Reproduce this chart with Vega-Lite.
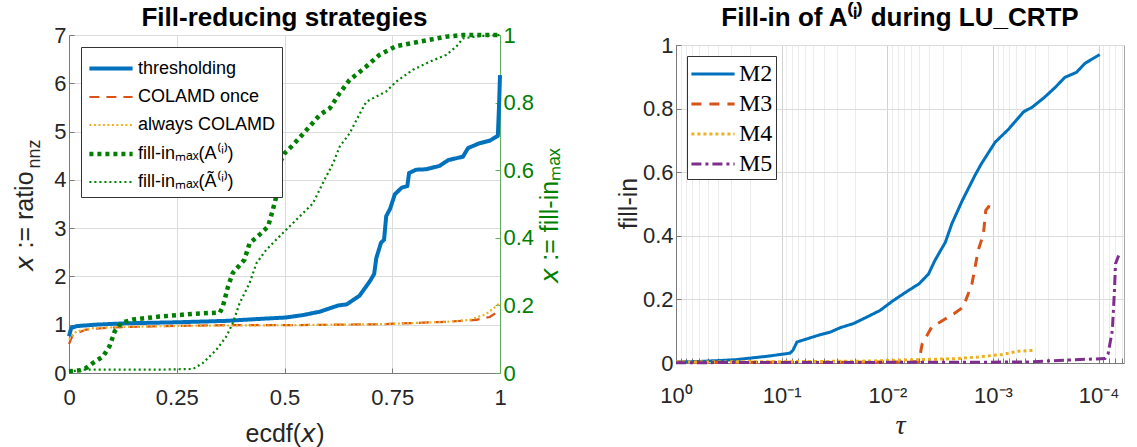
{
  "$schema": "https://vega.github.io/schema/vega-lite/v6.json",
  "background": "white",
  "padding": {"left": 11, "top": 4, "right": 5, "bottom": 5},
  "spacing": 176,
  "bounds": "flush",
  "center": true,
  "config": {
    "font": "Liberation Sans",
    "view": {"stroke": "#a6a6a6", "strokeWidth": 1},
    "axis": {
      "labelFont": "Liberation Sans", "labelFontSize": 22, "labelColor": "#262626",
      "titleFont": "Liberation Sans", "titleFontSize": 25, "titleFontWeight": "normal", "titleColor": "#262626",
      "gridColor": "#dcdcdc", "gridWidth": 1, "domainColor": "#7a7a7a", "tickColor": "#7a7a7a",
      "tickSize": -5, "labelPadding": 8, "labelFlush": false, "labelOverlap": false
    },
    "legend": {
      "labelFont": "Liberation Sans", "labelFontSize": 18, "labelColor": "#000000",
      "strokeColor": "#333333", "fillColor": "#ffffff", "padding": 6,
      "symbolType": "M-1.6,0H1.6", "symbolSize": 729, "symbolOffset": 8, "labelOffset": 11,
      "rowPadding": 4, "orient": "top-left", "offset": 12, "labelLimit": 400
    },
    "title": {"font": "Liberation Sans", "fontSize": 26, "fontWeight": "bold", "color": "#000000", "anchor": "middle", "baseline": "alphabetic", "frame": "group"},
    "line": {"strokeCap": "butt", "strokeJoin": "round"}
  },
  "datasets": {
    "ratio": [
      {"s": "thresholding", "e": 0, "r": 0.76}, {"s": "thresholding", "e": 0.005, "r": 0.93}, {"s": "thresholding", "e": 0.017, "r": 0.97},
      {"s": "thresholding", "e": 0.06, "r": 1.0}, {"s": "thresholding", "e": 0.133, "r": 1.03}, {"s": "thresholding", "e": 0.249, "r": 1.05},
      {"s": "thresholding", "e": 0.365, "r": 1.08}, {"s": "thresholding", "e": 0.442, "r": 1.12}, {"s": "thresholding", "e": 0.504, "r": 1.15},
      {"s": "thresholding", "e": 0.543, "r": 1.2}, {"s": "thresholding", "e": 0.582, "r": 1.27}, {"s": "thresholding", "e": 0.625, "r": 1.4},
      {"s": "thresholding", "e": 0.644, "r": 1.42}, {"s": "thresholding", "e": 0.674, "r": 1.6}, {"s": "thresholding", "e": 0.698, "r": 1.9},
      {"s": "thresholding", "e": 0.708, "r": 2.05}, {"s": "thresholding", "e": 0.713, "r": 2.38}, {"s": "thresholding", "e": 0.724, "r": 2.7},
      {"s": "thresholding", "e": 0.731, "r": 2.76}, {"s": "thresholding", "e": 0.736, "r": 3.25}, {"s": "thresholding", "e": 0.745, "r": 3.4},
      {"s": "thresholding", "e": 0.756, "r": 3.7}, {"s": "thresholding", "e": 0.772, "r": 3.84}, {"s": "thresholding", "e": 0.785, "r": 3.87},
      {"s": "thresholding", "e": 0.789, "r": 4.14}, {"s": "thresholding", "e": 0.805, "r": 4.21}, {"s": "thresholding", "e": 0.829, "r": 4.22},
      {"s": "thresholding", "e": 0.86, "r": 4.29}, {"s": "thresholding", "e": 0.88, "r": 4.41}, {"s": "thresholding", "e": 0.914, "r": 4.48},
      {"s": "thresholding", "e": 0.926, "r": 4.66}, {"s": "thresholding", "e": 0.953, "r": 4.76}, {"s": "thresholding", "e": 0.976, "r": 4.81},
      {"s": "thresholding", "e": 0.995, "r": 4.91}, {"s": "thresholding", "e": 0.998, "r": 5.59}, {"s": "thresholding", "e": 1.0, "r": 6.17},
      {"s": "COLAMD once", "e": 0, "r": 0.6}, {"s": "COLAMD once", "e": 0.009, "r": 0.79}, {"s": "COLAMD once", "e": 0.04, "r": 0.9},
      {"s": "COLAMD once", "e": 0.094, "r": 0.94}, {"s": "COLAMD once", "e": 0.21, "r": 0.97}, {"s": "COLAMD once", "e": 0.365, "r": 0.99},
      {"s": "COLAMD once", "e": 0.5, "r": 0.99}, {"s": "COLAMD once", "e": 0.72, "r": 1.01}, {"s": "COLAMD once", "e": 0.876, "r": 1.06},
      {"s": "COLAMD once", "e": 0.945, "r": 1.1}, {"s": "COLAMD once", "e": 0.976, "r": 1.16}, {"s": "COLAMD once", "e": 0.995, "r": 1.27},
      {"s": "COLAMD once", "e": 1.0, "r": 1.3},
      {"s": "always COLAMD", "e": 0, "r": 0.69}, {"s": "always COLAMD", "e": 0.017, "r": 0.86}, {"s": "always COLAMD", "e": 0.056, "r": 0.93},
      {"s": "always COLAMD", "e": 0.15, "r": 0.96}, {"s": "always COLAMD", "e": 0.3, "r": 0.98}, {"s": "always COLAMD", "e": 0.5, "r": 0.99},
      {"s": "always COLAMD", "e": 0.72, "r": 1.01}, {"s": "always COLAMD", "e": 0.876, "r": 1.06}, {"s": "always COLAMD", "e": 0.93, "r": 1.1},
      {"s": "always COLAMD", "e": 0.968, "r": 1.22}, {"s": "always COLAMD", "e": 1.0, "r": 1.45}
    ],
    "fill": [
      {"s": "fill-inₘₐₓ(A⁽ⁱ⁾)", "e": 0, "f": 0.005}, {"s": "fill-inₘₐₓ(A⁽ⁱ⁾)", "e": 0.025, "f": 0.008}, {"s": "fill-inₘₐₓ(A⁽ⁱ⁾)", "e": 0.04, "f": 0.015},
      {"s": "fill-inₘₐₓ(A⁽ⁱ⁾)", "e": 0.056, "f": 0.03}, {"s": "fill-inₘₐₓ(A⁽ⁱ⁾)", "e": 0.079, "f": 0.049}, {"s": "fill-inₘₐₓ(A⁽ⁱ⁾)", "e": 0.094, "f": 0.079},
      {"s": "fill-inₘₐₓ(A⁽ⁱ⁾)", "e": 0.106, "f": 0.123}, {"s": "fill-inₘₐₓ(A⁽ⁱ⁾)", "e": 0.121, "f": 0.148}, {"s": "fill-inₘₐₓ(A⁽ⁱ⁾)", "e": 0.148, "f": 0.158},
      {"s": "fill-inₘₐₓ(A⁽ⁱ⁾)", "e": 0.21, "f": 0.167}, {"s": "fill-inₘₐₓ(A⁽ⁱ⁾)", "e": 0.288, "f": 0.175}, {"s": "fill-inₘₐₓ(A⁽ⁱ⁾)", "e": 0.35, "f": 0.179},
      {"s": "fill-inₘₐₓ(A⁽ⁱ⁾)", "e": 0.357, "f": 0.197}, {"s": "fill-inₘₐₓ(A⁽ⁱ⁾)", "e": 0.369, "f": 0.256}, {"s": "fill-inₘₐₓ(A⁽ⁱ⁾)", "e": 0.38, "f": 0.296},
      {"s": "fill-inₘₐₓ(A⁽ⁱ⁾)", "e": 0.407, "f": 0.335}, {"s": "fill-inₘₐₓ(A⁽ⁱ⁾)", "e": 0.419, "f": 0.384}, {"s": "fill-inₘₐₓ(A⁽ⁱ⁾)", "e": 0.442, "f": 0.409},
      {"s": "fill-inₘₐₓ(A⁽ⁱ⁾)", "e": 0.462, "f": 0.434}, {"s": "fill-inₘₐₓ(A⁽ⁱ⁾)", "e": 0.473, "f": 0.483}, {"s": "fill-inₘₐₓ(A⁽ⁱ⁾)", "e": 0.485, "f": 0.542},
      {"s": "fill-inₘₐₓ(A⁽ⁱ⁾)", "e": 0.489, "f": 0.621}, {"s": "fill-inₘₐₓ(A⁽ⁱ⁾)", "e": 0.5, "f": 0.65}, {"s": "fill-inₘₐₓ(A⁽ⁱ⁾)", "e": 0.52, "f": 0.675},
      {"s": "fill-inₘₐₓ(A⁽ⁱ⁾)", "e": 0.551, "f": 0.719}, {"s": "fill-inₘₐₓ(A⁽ⁱ⁾)", "e": 0.582, "f": 0.764}, {"s": "fill-inₘₐₓ(A⁽ⁱ⁾)", "e": 0.605, "f": 0.783},
      {"s": "fill-inₘₐₓ(A⁽ⁱ⁾)", "e": 0.628, "f": 0.828}, {"s": "fill-inₘₐₓ(A⁽ⁱ⁾)", "e": 0.651, "f": 0.867}, {"s": "fill-inₘₐₓ(A⁽ⁱ⁾)", "e": 0.689, "f": 0.906},
      {"s": "fill-inₘₐₓ(A⁽ⁱ⁾)", "e": 0.72, "f": 0.941}, {"s": "fill-inₘₐₓ(A⁽ⁱ⁾)", "e": 0.759, "f": 0.967}, {"s": "fill-inₘₐₓ(A⁽ⁱ⁾)", "e": 0.813, "f": 0.98},
      {"s": "fill-inₘₐₓ(A⁽ⁱ⁾)", "e": 0.875, "f": 0.995}, {"s": "fill-inₘₐₓ(A⁽ⁱ⁾)", "e": 0.914, "f": 1.0}, {"s": "fill-inₘₐₓ(A⁽ⁱ⁾)", "e": 1.0, "f": 1.0},
      {"s": "fill-inₘₐₓ(Ã⁽ⁱ⁾)", "e": 0, "f": 0.002}, {"s": "fill-inₘₐₓ(Ã⁽ⁱ⁾)", "e": 0.025, "f": 0.01}, {"s": "fill-inₘₐₓ(Ã⁽ⁱ⁾)", "e": 0.21, "f": 0.01},
      {"s": "fill-inₘₐₓ(Ã⁽ⁱ⁾)", "e": 0.288, "f": 0.012}, {"s": "fill-inₘₐₓ(Ã⁽ⁱ⁾)", "e": 0.311, "f": 0.03}, {"s": "fill-inₘₐₓ(Ã⁽ⁱ⁾)", "e": 0.342, "f": 0.069},
      {"s": "fill-inₘₐₓ(Ã⁽ⁱ⁾)", "e": 0.365, "f": 0.108}, {"s": "fill-inₘₐₓ(Ã⁽ⁱ⁾)", "e": 0.38, "f": 0.148}, {"s": "fill-inₘₐₓ(Ã⁽ⁱ⁾)", "e": 0.396, "f": 0.207},
      {"s": "fill-inₘₐₓ(Ã⁽ⁱ⁾)", "e": 0.419, "f": 0.266}, {"s": "fill-inₘₐₓ(Ã⁽ⁱ⁾)", "e": 0.435, "f": 0.325}, {"s": "fill-inₘₐₓ(Ã⁽ⁱ⁾)", "e": 0.458, "f": 0.365},
      {"s": "fill-inₘₐₓ(Ã⁽ⁱ⁾)", "e": 0.489, "f": 0.405}, {"s": "fill-inₘₐₓ(Ã⁽ⁱ⁾)", "e": 0.504, "f": 0.424}, {"s": "fill-inₘₐₓ(Ã⁽ⁱ⁾)", "e": 0.535, "f": 0.463},
      {"s": "fill-inₘₐₓ(Ã⁽ⁱ⁾)", "e": 0.566, "f": 0.502}, {"s": "fill-inₘₐₓ(Ã⁽ⁱ⁾)", "e": 0.589, "f": 0.562}, {"s": "fill-inₘₐₓ(Ã⁽ⁱ⁾)", "e": 0.613, "f": 0.621},
      {"s": "fill-inₘₐₓ(Ã⁽ⁱ⁾)", "e": 0.628, "f": 0.67}, {"s": "fill-inₘₐₓ(Ã⁽ⁱ⁾)", "e": 0.651, "f": 0.709}, {"s": "fill-inₘₐₓ(Ã⁽ⁱ⁾)", "e": 0.675, "f": 0.768},
      {"s": "fill-inₘₐₓ(Ã⁽ⁱ⁾)", "e": 0.69, "f": 0.803}, {"s": "fill-inₘₐₓ(Ã⁽ⁱ⁾)", "e": 0.713, "f": 0.818}, {"s": "fill-inₘₐₓ(Ã⁽ⁱ⁾)", "e": 0.736, "f": 0.833},
      {"s": "fill-inₘₐₓ(Ã⁽ⁱ⁾)", "e": 0.759, "f": 0.862}, {"s": "fill-inₘₐₓ(Ã⁽ⁱ⁾)", "e": 0.798, "f": 0.897}, {"s": "fill-inₘₐₓ(Ã⁽ⁱ⁾)", "e": 0.837, "f": 0.921},
      {"s": "fill-inₘₐₓ(Ã⁽ⁱ⁾)", "e": 0.875, "f": 0.941}, {"s": "fill-inₘₐₓ(Ã⁽ⁱ⁾)", "e": 0.899, "f": 0.966}, {"s": "fill-inₘₐₓ(Ã⁽ⁱ⁾)", "e": 0.914, "f": 0.99},
      {"s": "fill-inₘₐₓ(Ã⁽ⁱ⁾)", "e": 0.953, "f": 0.997}, {"s": "fill-inₘₐₓ(Ã⁽ⁱ⁾)", "e": 1.0, "f": 1.0}
    ],
    "tau": [
      {"s": "M2", "t": 1, "f": 0.003}, {"s": "M2", "t": 0.589, "f": 0.005}, {"s": "M2", "t": 0.282, "f": 0.01}, {"s": "M2", "t": 0.138, "f": 0.021},
      {"s": "M2", "t": 0.0832, "f": 0.031}, {"s": "M2", "t": 0.0782, "f": 0.04}, {"s": "M2", "t": 0.0716, "f": 0.066}, {"s": "M2", "t": 0.0575, "f": 0.076},
      {"s": "M2", "t": 0.0432, "f": 0.089}, {"s": "M2", "t": 0.0347, "f": 0.097}, {"s": "M2", "t": 0.0279, "f": 0.111}, {"s": "M2", "t": 0.0209, "f": 0.124},
      {"s": "M2", "t": 0.0155, "f": 0.145}, {"s": "M2", "t": 0.01175, "f": 0.165}, {"s": "M2", "t": 0.00891, "f": 0.195}, {"s": "M2", "t": 0.00631, "f": 0.228},
      {"s": "M2", "t": 0.00501, "f": 0.249}, {"s": "M2", "t": 0.00407, "f": 0.28}, {"s": "M2", "t": 0.00355, "f": 0.322}, {"s": "M2", "t": 0.00282, "f": 0.38},
      {"s": "M2", "t": 0.00245, "f": 0.438}, {"s": "M2", "t": 0.00195, "f": 0.511}, {"s": "M2", "t": 0.00148, "f": 0.59}, {"s": "M2", "t": 0.00129, "f": 0.626},
      {"s": "M2", "t": 0.000955, "f": 0.694}, {"s": "M2", "t": 0.000708, "f": 0.736}, {"s": "M2", "t": 0.000513, "f": 0.79}, {"s": "M2", "t": 0.000427, "f": 0.804},
      {"s": "M2", "t": 0.000324, "f": 0.836}, {"s": "M2", "t": 0.000257, "f": 0.867}, {"s": "M2", "t": 0.000209, "f": 0.898}, {"s": "M2", "t": 0.000162, "f": 0.914},
      {"s": "M2", "t": 0.000135, "f": 0.942}, {"s": "M2", "t": 0.0000977, "f": 0.97},
      {"s": "M3", "t": 1, "f": 0.002}, {"s": "M3", "t": 0.1, "f": 0.002}, {"s": "M3", "t": 0.01, "f": 0.003}, {"s": "M3", "t": 0.00501, "f": 0.004},
      {"s": "M3", "t": 0.00468, "f": 0.06}, {"s": "M3", "t": 0.0038, "f": 0.113}, {"s": "M3", "t": 0.00234, "f": 0.155}, {"s": "M3", "t": 0.00191, "f": 0.176},
      {"s": "M3", "t": 0.00158, "f": 0.249}, {"s": "M3", "t": 0.00138, "f": 0.354}, {"s": "M3", "t": 0.00123, "f": 0.406}, {"s": "M3", "t": 0.00117, "f": 0.48},
      {"s": "M3", "t": 0.0011, "f": 0.492}, {"s": "M3", "t": 0.00102, "f": 0.488},
      {"s": "M4", "t": 1, "f": 0.003}, {"s": "M4", "t": 0.1, "f": 0.004}, {"s": "M4", "t": 0.0155, "f": 0.006}, {"s": "M4", "t": 0.0091, "f": 0.008},
      {"s": "M4", "t": 0.00214, "f": 0.014}, {"s": "M4", "t": 0.00138, "f": 0.019}, {"s": "M4", "t": 0.000813, "f": 0.027}, {"s": "M4", "t": 0.000575, "f": 0.037},
      {"s": "M4", "t": 0.000398, "f": 0.04},
      {"s": "M5", "t": 1, "f": 0.001}, {"s": "M5", "t": 0.01, "f": 0.002}, {"s": "M5", "t": 0.00049, "f": 0.003}, {"s": "M5", "t": 0.00024, "f": 0.008},
      {"s": "M5", "t": 0.0000871, "f": 0.014}, {"s": "M5", "t": 0.0000813, "f": 0.029}, {"s": "M5", "t": 0.0000741, "f": 0.103}, {"s": "M5", "t": 0.0000708, "f": 0.228},
      {"s": "M5", "t": 0.0000692, "f": 0.312}, {"s": "M5", "t": 0.0000646, "f": 0.338}
    ]
  },
  "hconcat": [
    {
      "width": 431, "height": 338,
      "title": {"text": "Fill-reducing strategies", "offset": -7},
      "layer": [
        {
          "data": {"name": "ratio"},
          "mark": {"type": "line"},
          "encoding": {
            "x": {"field": "e", "type": "quantitative", "scale": {"domain": [0, 1], "nice": false, "zero": false},
                  "axis": {"title": "ecdf(𝘹)", "values": [0, 0.25, 0.5, 0.75, 1], "format": ".2~f", "grid": true, "labelPadding": 19, "titlePadding": 13}},
            "y": {"field": "r", "type": "quantitative", "scale": {"domain": [0, 7], "nice": false},
                  "axis": {"orient": "left", "values": [0, 1, 2, 3, 4, 5, 6, 7], "format": "d", "grid": true, "title": "𝘹 := ratio",
                           "titleAngle": 270, "titleAlign": "left", "titleBaseline": "alphabetic", "titleX": -37, "titleY": 235}},
            "color": {"field": "s", "type": "nominal",
                      "scale": {"domain": ["thresholding", "COLAMD once", "always COLAMD", "fill-inₘₐₓ(A⁽ⁱ⁾)", "fill-inₘₐₓ(Ã⁽ⁱ⁾)"],
                                "range": ["#0072BD", "#D95319", "#EDB120", "#008000", "#008000"]},
                      "legend": {"title": null}},
            "strokeDash": {"field": "s", "type": "nominal",
                      "scale": {"domain": ["thresholding", "COLAMD once", "always COLAMD", "fill-inₘₐₓ(A⁽ⁱ⁾)", "fill-inₘₐₓ(Ã⁽ⁱ⁾)"],
                                "range": [[1, 0], [10, 7], [2, 2.5], [4, 4], [2, 3]]},
                      "legend": {"title": null}},
            "strokeWidth": {"field": "s", "type": "nominal",
                      "scale": {"type": "ordinal", "domain": ["thresholding", "COLAMD once", "always COLAMD", "fill-inₘₐₓ(A⁽ⁱ⁾)", "fill-inₘₐₓ(Ã⁽ⁱ⁾)"],
                                "range": [4, 2.2, 2.2, 4.5, 2.2]},
                      "legend": {"title": null}}
          }
        },
        {
          "data": {"name": "fill"},
          "mark": {"type": "line"},
          "encoding": {
            "x": {"field": "e", "type": "quantitative"},
            "y": {"field": "f", "type": "quantitative", "scale": {"domain": [0, 1], "nice": false},
                  "axis": {"orient": "right", "values": [0, 0.2, 0.4, 0.6, 0.8, 1], "format": ".1~f", "grid": false,
                           "labelColor": "#008000", "domainColor": "#5fae5f", "tickColor": "#5fae5f",
                           "title": "𝘹 := fill-inₘₐₓ", "titleColor": "#008000", "titleAngle": 270, "titleAlign": "center",
                           "titleBaseline": "alphabetic", "titleX": 57, "titleY": 180}},
            "color": {"field": "s", "type": "nominal",
                      "scale": {"domain": ["thresholding", "COLAMD once", "always COLAMD", "fill-inₘₐₓ(A⁽ⁱ⁾)", "fill-inₘₐₓ(Ã⁽ⁱ⁾)"],
                                "range": ["#0072BD", "#D95319", "#EDB120", "#008000", "#008000"]},
                      "legend": {"title": null}},
            "strokeDash": {"field": "s", "type": "nominal",
                      "scale": {"domain": ["thresholding", "COLAMD once", "always COLAMD", "fill-inₘₐₓ(A⁽ⁱ⁾)", "fill-inₘₐₓ(Ã⁽ⁱ⁾)"],
                                "range": [[1, 0], [10, 7], [2, 2.5], [4, 4], [2, 3]]},
                      "legend": {"title": null}},
            "strokeWidth": {"field": "s", "type": "nominal",
                      "scale": {"type": "ordinal", "domain": ["thresholding", "COLAMD once", "always COLAMD", "fill-inₘₐₓ(A⁽ⁱ⁾)", "fill-inₘₐₓ(Ã⁽ⁱ⁾)"],
                                "range": [4, 2.2, 2.2, 4.5, 2.2]},
                      "legend": {"title": null}}
          }
        },
        {
          "data": {"name": "ratio"},
          "mark": {"type": "line", "opacity": 0},
          "encoding": {
            "x": {"field": "e", "type": "quantitative"},
            "y": {"field": "r", "type": "quantitative", "scale": {"domain": [0, 7], "nice": false},
                  "axis": {"orient": "left", "title": "nnz", "labels": false, "ticks": false, "domain": false, "grid": false,
                           "titleFontSize": 18, "titleAngle": 270, "titleAlign": "left", "titleBaseline": "alphabetic",
                           "titleX": -30, "titleY": 133}}
          }
        }
      ],
      "resolve": {"scale": {"y": "independent"}}
    },
    {
      "width": 448, "height": 318,
      "title": {"text": "Fill-in of A⁽ⁱ⁾ during LU_CRTP", "offset": 3},
      "data": {"name": "tau"},
      "mark": {"type": "line", "strokeWidth": 3},
      "encoding": {
        "x": {"field": "t", "type": "quantitative",
              "scale": {"type": "log", "domain": [0.0000575, 1], "reverse": true, "nice": false},
              "axis": {"title": "τ", "titleFont": "Liberation Serif", "titleFontStyle": "italic", "titleFontSize": 28,
                       "values": [1, 0.9, 0.8, 0.7, 0.6, 0.5, 0.4, 0.3, 0.2, 0.1, 0.09, 0.08, 0.07, 0.06, 0.05, 0.04, 0.03, 0.02, 0.01,
                                  0.009, 0.008, 0.007, 0.006, 0.005, 0.004, 0.003, 0.002, 0.001, 0.0009, 0.0008, 0.0007, 0.0006, 0.0005,
                                  0.0004, 0.0003, 0.0002, 0.0001, 0.00009, 0.00008, 0.00007, 0.00006],
                       "labelExpr": "abs(log(datum.value)/LN10 - round(log(datum.value)/LN10)) < 0.001 ? '10' + ['⁰','⁻¹','⁻²','⁻³','⁻⁴'][-round(log(datum.value)/LN10)] : ''",
                       "grid": true,
                       "gridColor": {"condition": {"test": "abs(log(datum.value)/LN10 - round(log(datum.value)/LN10)) < 0.001", "value": "#d2d2d2"}, "value": "#ececec"},
                       "labelPadding": 27, "titlePadding": 5}},
        "y": {"field": "f", "type": "quantitative", "scale": {"domain": [0, 1], "nice": false},
              "axis": {"values": [0, 0.2, 0.4, 0.6, 0.8, 1], "format": ".1~f", "title": "fill-in", "grid": true,
                       "titleAngle": 270, "titleAlign": "center", "titleBaseline": "alphabetic", "titleX": -40, "titleY": 158}},
        "color": {"field": "s", "type": "nominal",
                  "scale": {"domain": ["M2", "M3", "M4", "M5"], "range": ["#0072BD", "#D95319", "#EDB120", "#7E2F8E"]},
                  "legend": {"title": null, "labelFont": "Liberation Serif", "labelFontSize": 24, "offset": 11, "rowPadding": 3, "padding": 3, "symbolStrokeWidth": 3}},
        "strokeDash": {"field": "s", "type": "nominal",
                  "scale": {"domain": ["M2", "M3", "M4", "M5"], "range": [[1, 0], [10, 8], [3, 3], [10, 4, 3, 4]]},
                  "legend": {"title": null, "labelFont": "Liberation Serif", "labelFontSize": 24, "offset": 11, "rowPadding": 3, "padding": 3, "symbolStrokeWidth": 3}}
      }
    }
  ],
  "resolve": {
    "scale": {"color": "independent", "strokeDash": "independent", "strokeWidth": "independent"},
    "legend": {"color": "independent", "strokeDash": "independent", "strokeWidth": "independent"}
  }
}
